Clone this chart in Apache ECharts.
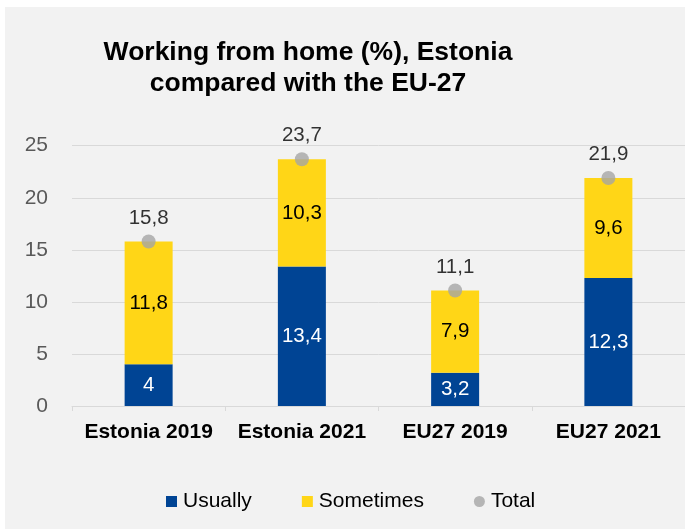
<!DOCTYPE html>
<html>
<head>
<meta charset="utf-8">
<script src="https://cdn.jsdelivr.net/npm/echarts@6/dist/echarts.min.js"></script>
<style>
  html, body { margin: 0; padding: 0; background: #ffffff; }
  #chart { width: 685px; height: 529px; }
</style>
</head>
<body>
<div id="chart"></div>
<script>
// Share of employed people working from home, Estonia vs EU-27
const categories = ['Estonia 2019', 'Estonia 2021', 'EU27 2019', 'EU27 2021'];
const usually = [4, 13.4, 3.2, 12.3];
const sometimes = [11.8, 10.3, 7.9, 9.6];
const total = [15.8, 23.7, 11.1, 21.9];
const yTicks = [0, 5, 10, 15, 20, 25];

const FONT = 'Arial, "Liberation Sans", sans-serif';
const comma = v => String(v).replace('.', ',');

const chart = echarts.init(document.getElementById('chart'), null, { renderer: 'canvas' });

chart.setOption({
  backgroundColor: '#ffffff',
  animation: false,
  textStyle: { fontFamily: FONT },
  graphic: [{
    type: 'rect',
    z: -10,
    silent: true,
    shape: { x: 5, y: 7, width: 680, height: 522 },
    style: { fill: '#f2f2f2' }
  }],
  title: {
    text: 'Working from home (%), Estonia\ncompared with the EU-27',
    left: 303,
    top: 32,
    textAlign: 'center',
    textStyle: {
      fontFamily: FONT,
      fontSize: 26.5,
      fontWeight: 'bold',
      color: '#000000',
      lineHeight: 31
    }
  },
  legend: {
    bottom: 17,
    left: 166,
    padding: 0,
    itemWidth: 11,
    itemHeight: 11,
    itemGap: 50,
    textStyle: { fontFamily: FONT, fontSize: 21, color: '#000000', padding: [0, 0, 0, 1] },
    data: [
      { name: 'Usually', icon: 'rect' },
      { name: 'Sometimes', icon: 'rect' },
      { name: 'Total', icon: 'circle' }
    ]
  },
  grid: { left: 72, width: 614, top: 145.7, bottom: 123, containLabel: false },
  xAxis: {
    type: 'category',
    data: categories,
    axisLine: { lineStyle: { color: '#d9d9d9', width: 1 } },
    axisTick: { show: true, length: 5, lineStyle: { color: '#d9d9d9' } },
    axisLabel: {
      interval: 0,
      margin: 16,
      fontFamily: FONT,
      fontSize: 21,
      fontWeight: 'bold',
      color: '#000000'
    }
  },
  yAxis: {
    type: 'value',
    min: yTicks[0],
    max: yTicks[yTicks.length - 1],
    interval: 5,
    axisLine: { show: false },
    axisTick: { show: false },
    splitLine: { lineStyle: { color: '#d9d9d9', width: 1 } },
    axisLabel: {
      margin: 24,
      fontFamily: FONT,
      fontSize: 21,
      color: '#595959'
    }
  },
  series: [
    {
      name: 'Usually',
      type: 'bar',
      stack: 'wfh',
      barWidth: 48,
      data: usually,
      itemStyle: { color: '#004494' },
      label: {
        show: true,
        position: 'inside',
        fontFamily: FONT,
        fontSize: 20.5,
        color: '#ffffff',
        formatter: p => comma(p.value)
      }
    },
    {
      name: 'Sometimes',
      type: 'bar',
      stack: 'wfh',
      barWidth: 48,
      data: sometimes,
      itemStyle: { color: '#ffd617' },
      label: {
        show: true,
        position: 'inside',
        fontFamily: FONT,
        fontSize: 20.5,
        color: '#000000',
        formatter: p => comma(p.value)
      }
    },
    {
      name: 'Total',
      type: 'scatter',
      data: total,
      symbol: 'circle',
      symbolSize: 14,
      z: 5,
      itemStyle: { color: '#a5a5a5' },
      label: {
        show: true,
        position: 'top',
        distance: 6,
        fontFamily: FONT,
        fontSize: 20.5,
        color: '#000000',
        formatter: p => comma(p.value)
      }
    }
  ]
});
</script>
</body>
</html>
